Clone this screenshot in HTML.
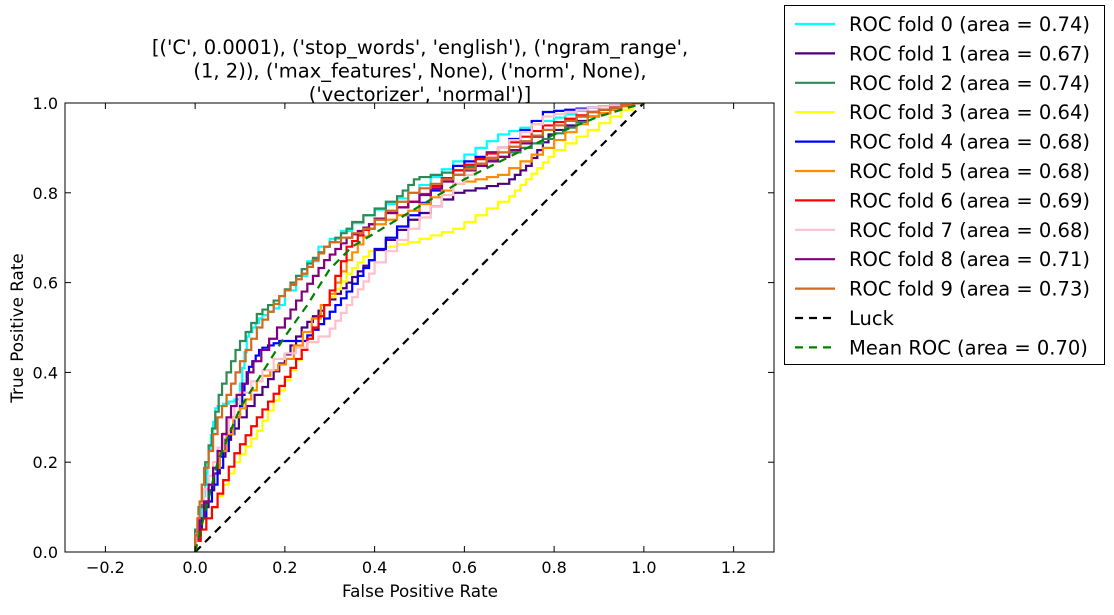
<!DOCTYPE html>
<html><head><meta charset="utf-8"><style>
body{margin:0;background:#fff;width:1114px;height:610px;overflow:hidden;font-family:"Liberation Sans","DejaVu Sans",sans-serif}
svg text{font-family:"DejaVu Sans","Liberation Sans",sans-serif}
</style></head><body>
<svg id="c" width="1114" height="610" xmlns="http://www.w3.org/2000/svg"></svg>
<script>
const xTicks=[-0.2,0.0,0.2,0.4,0.6,0.8,1.0,1.2];
const yTicks=[0.0,0.2,0.4,0.6,0.8,1.0];
const foldNames=["ROC fold 0 (area = 0.74)","ROC fold 1 (area = 0.67)","ROC fold 2 (area = 0.74)","ROC fold 3 (area = 0.64)","ROC fold 4 (area = 0.68)","ROC fold 5 (area = 0.68)","ROC fold 6 (area = 0.69)","ROC fold 7 (area = 0.68)","ROC fold 8 (area = 0.71)","ROC fold 9 (area = 0.73)"];
const foldColors=["cyan","indigo","seagreen","yellow","blue","darkorange","red","pink","purple","#d2691e"];
const fold0=[[0,0],[0.02,0.1],[0.03,0.2],[0.05,0.32],[0.1,0.34],[0.12,0.48],[0.15,0.52],[0.2,0.55],[0.3,0.68],[0.4,0.75],[0.5,0.8],[0.6,0.87],[0.7,0.93],[0.8,0.96],[0.9,0.99],[1,1]];
const fold1=[[0,0],[0.03,0.1],[0.08,0.25],[0.15,0.35],[0.2,0.42],[0.25,0.5],[0.3,0.55],[0.35,0.6],[0.4,0.65],[0.5,0.74],[0.6,0.8],[0.7,0.82],[0.75,0.86],[0.8,0.93],[0.9,0.97],[1,1]];
const fold2=[[0,0],[0.03,0.2],[0.06,0.35],[0.1,0.45],[0.15,0.53],[0.2,0.57],[0.25,0.63],[0.3,0.68],[0.35,0.72],[0.45,0.78],[0.5,0.83],[0.6,0.85],[0.7,0.88],[0.8,0.92],[0.9,0.97],[1,1]];
const fold3=[[0,0],[0.05,0.1],[0.1,0.2],[0.15,0.27],[0.2,0.36],[0.25,0.45],[0.3,0.55],[0.35,0.62],[0.4,0.67],[0.5,0.69],[0.6,0.72],[0.7,0.78],[0.75,0.83],[0.8,0.88],[0.9,0.94],[1,1]];
const fold4=[[0,0],[0.05,0.15],[0.1,0.3],[0.12,0.4],[0.15,0.45],[0.2,0.47],[0.25,0.47],[0.3,0.52],[0.35,0.58],[0.4,0.65],[0.5,0.75],[0.6,0.86],[0.7,0.9],[0.8,0.98],[0.9,0.99],[1,1]];
const fold5=[[0,0],[0.04,0.15],[0.1,0.3],[0.15,0.38],[0.22,0.43],[0.3,0.55],[0.35,0.65],[0.4,0.72],[0.5,0.76],[0.6,0.82],[0.7,0.84],[0.8,0.9],[0.9,0.97],[1,1]];
const fold6=[[0,0],[0.05,0.1],[0.1,0.22],[0.15,0.3],[0.2,0.37],[0.25,0.45],[0.3,0.55],[0.35,0.68],[0.4,0.73],[0.5,0.78],[0.6,0.85],[0.7,0.9],[0.8,0.95],[0.9,0.98],[1,1]];
const fold7=[[0,0],[0.01,0.08],[0.05,0.2],[0.1,0.33],[0.2,0.43],[0.3,0.48],[0.35,0.55],[0.4,0.62],[0.5,0.72],[0.6,0.82],[0.7,0.9],[0.8,0.97],[0.9,0.99],[1,1]];
const fold8=[[0,0],[0.04,0.15],[0.08,0.3],[0.13,0.4],[0.2,0.5],[0.25,0.58],[0.3,0.65],[0.35,0.7],[0.4,0.73],[0.5,0.78],[0.6,0.84],[0.7,0.88],[0.8,0.94],[0.9,0.98],[1,1]];
const fold9=[[0,0],[0.02,0.15],[0.06,0.3],[0.1,0.4],[0.15,0.5],[0.2,0.57],[0.25,0.62],[0.3,0.68],[0.4,0.72],[0.5,0.8],[0.6,0.84],[0.7,0.89],[0.8,0.94],[0.9,0.98],[1,1]];
const meanRoc=[[0,0],[0.05,0.2],[0.1,0.32],[0.15,0.4],[0.2,0.48],[0.25,0.55],[0.3,0.63],[0.35,0.68],[0.4,0.71],[0.5,0.77],[0.6,0.83],[0.7,0.88],[0.8,0.93],[0.9,0.97],[1,1]];
const luck=[[0,0],[1,1]];
const folds=[fold0,fold1,fold2,fold3,fold4,fold5,fold6,fold7,fold8,fold9];

const NS="http://www.w3.org/2000/svg",svg=document.getElementById('c');
const L=65,R=774,T=103,B=552,xmin=-0.29,xmax=1.29;
const sx=v=>L+(v-xmin)/(xmax-xmin)*(R-L), sy=v=>B-v*(B-T);
function mk(t,a,p){const e=document.createElementNS(NS,t);for(const k in a)e.setAttribute(k,a[k]);(p||svg).appendChild(e);return e;}
function stepPts(d){let s=[];for(let i=0;i<d.length;i++){if(i>0){const a=d[i-1],b=d[i];const n=4;for(let j=1;j<=n;j++){const x=a[0]+(b[0]-a[0])*j/n,y=a[1]+(b[1]-a[1])*j/n;s.push(sx(x-(b[0]-a[0])/n)+','+sy(y));s.push(sx(x)+','+sy(y));}}else s.push(sx(d[0][0])+','+sy(d[0][1]));}return s.join(' ');}
const clip=mk('clipPath',{id:'pc'});mk('rect',{x:L,y:T,width:R-L,height:B-T},clip);
const g=mk('g',{'clip-path':'url(#pc)'});
folds.forEach((d,i)=>{const p=mk('polyline',{points:stepPts(d),fill:'none',stroke:foldColors[i],'stroke-width':2.2},g);

});
const lk=mk('polyline',{points:luck.map(p=>sx(p[0])+','+sy(p[1])).join(' '),fill:'none',stroke:'#000','stroke-width':2.2,'stroke-dasharray':'8,6'},g);


const mr=mk('polyline',{points:meanRoc.map(p=>sx(p[0])+','+sy(p[1])).join(' '),fill:'none',stroke:'green','stroke-width':2.2,'stroke-dasharray':'8,6'},g);


const fr=mk('rect',{x:L,y:T,width:R-L,height:B-T,fill:'none',stroke:'#000','stroke-width':1});


xTicks.forEach(v=>{const x=sx(v);mk('line',{x1:x,x2:x,y1:B,y2:B-6,stroke:'#000'});mk('line',{x1:x,x2:x,y1:T,y2:T+6,stroke:'#000'});
const t=mk('text',{x:x,y:B+21,'text-anchor':'middle','font-size':16});t.textContent=v.toFixed(1).replace('-','\u2212');

});
yTicks.forEach(v=>{const y=sy(v);mk('line',{x1:L,x2:L+6,y1:y,y2:y,stroke:'#000'});mk('line',{x1:R,x2:R-6,y1:y,y2:y,stroke:'#000'});
const t=mk('text',{x:L-7,y:y+6,'text-anchor':'end','font-size':16});t.textContent=v.toFixed(1);

});
let t=mk('text',{x:420,y:597,'text-anchor':'middle','font-size':16.8});t.textContent='False Positive Rate';

t=mk('text',{x:23,y:328,'text-anchor':'middle','font-size':16.8,transform:'rotate(-90 23 328)'});t.textContent='True Positive Rate';

["[('C', 0.0001), ('stop_words', 'english'), ('ngram_range',","(1, 2)), ('max_features', None), ('norm', None),","('vectorizer', 'normal')]"].forEach((s,i)=>{const e=mk('text',{x:420,y:54+i*23.5,'text-anchor':'middle','font-size':19.5});e.textContent=s;
});
const lg=mk('g',{});
mk('rect',{x:784.5,y:5.5,width:320,height:359,fill:'#fff',stroke:'#000'},lg);
const names=foldNames.concat(['Luck','Mean ROC (area = 0.70)']),cols=foldColors.concat(['#000','green']);
names.forEach((n,i)=>{const y=24+i*29.4;mk('line',{x1:795,x2:835,y1:y,y2:y,stroke:cols[i],'stroke-width':2.2,'stroke-dasharray':i>=10?'8,6':'none'},lg);
const e=mk('text',{x:849,y:y+7,'font-size':19.5},lg);e.textContent=n;
});
</script></body></html>
